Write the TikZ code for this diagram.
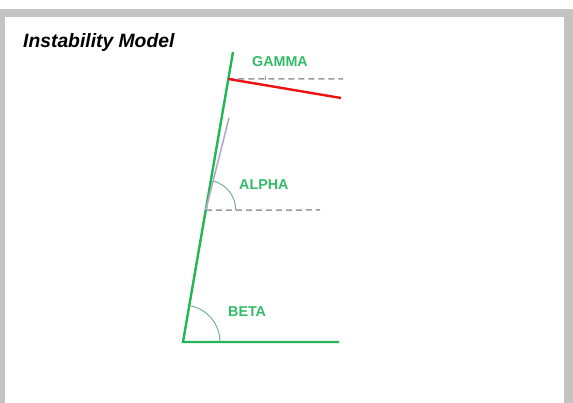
\documentclass[tikz,border=0pt]{standalone}
\usepackage{fontspec}
\setmainfont{Liberation Sans}
\usetikzlibrary{calc}
\definecolor{lgreen}{HTML}{22B755}
\definecolor{tgreen}{HTML}{33BB66}
\definecolor{agreen}{HTML}{6AAE86}
\definecolor{lred}{HTML}{EE1111}
\definecolor{dgray}{HTML}{9A9A9A}
\definecolor{lpurple}{HTML}{B8A8C4}
\definecolor{frame}{HTML}{C3C3C3}
\tikzset{
  mainline/.style={lgreen,line width=2.4pt},
  redline/.style={lred,line width=2.4pt},
  refline/.style={dgray,line width=1.5pt,dash pattern=on 6pt off 4pt},
  anglearc/.style={agreen,line width=0.9pt},
  lbl/.style={text=tgreen,font=\bfseries\fontsize{14.3}{16}\selectfont,inner sep=0pt,anchor=west},
}
\begin{document}
\begin{tikzpicture}[x=1pt,y=1pt]
\useasboundingbox (0,0) rectangle (573,403);
\fill[frame] (0,0) rectangle (573,394);
\fill[white] (5,0) rectangle (564,386);
\node[inner sep=0pt,anchor=base west,font=\bfseries\itshape\fontsize{19.3}{21}\selectfont] (title) at (23,355) {Instability Model};
\coordinate (B) at (183,61);
\coordinate (T) at (233,351);
\coordinate (E) at (339,61);
\coordinate (G) at ($(B)!0.907!(T)$);
\coordinate (R) at (341,305);
\coordinate (Gd) at (343,324);
\coordinate (A) at ($(B)!0.455!(T)$);
\coordinate (P) at (229,285);
\coordinate (Ad) at (320,193);
% beta
\draw[mainline] (E) -- (B) -- (T);
\draw[anglearc] ($(B)+(37,0)$) arc[start angle=0,end angle=80.2,radius=37];
\node[lbl] (beta) at (228,91) {BETA};
% alpha
\draw[lpurple,line width=1.6pt] (A) -- (P);
\draw[refline] (A) -- (Ad);
\draw[anglearc] ($(A)+(30,0)$) arc[start angle=0,end angle=75,radius=30];
\node[lbl] (alpha) at (239,218) {ALPHA};
% gamma
\draw[refline] (G) -- (Gd);
\draw[redline] (G) -- (R);
\draw[dgray,line width=0.8pt] ($(G)+(37.5,-1)$) -- ($(G)+(37.5,2.5)$);
\node[lbl] (gamma) at (252,341) {GAMMA};
\end{tikzpicture}
\end{document}
